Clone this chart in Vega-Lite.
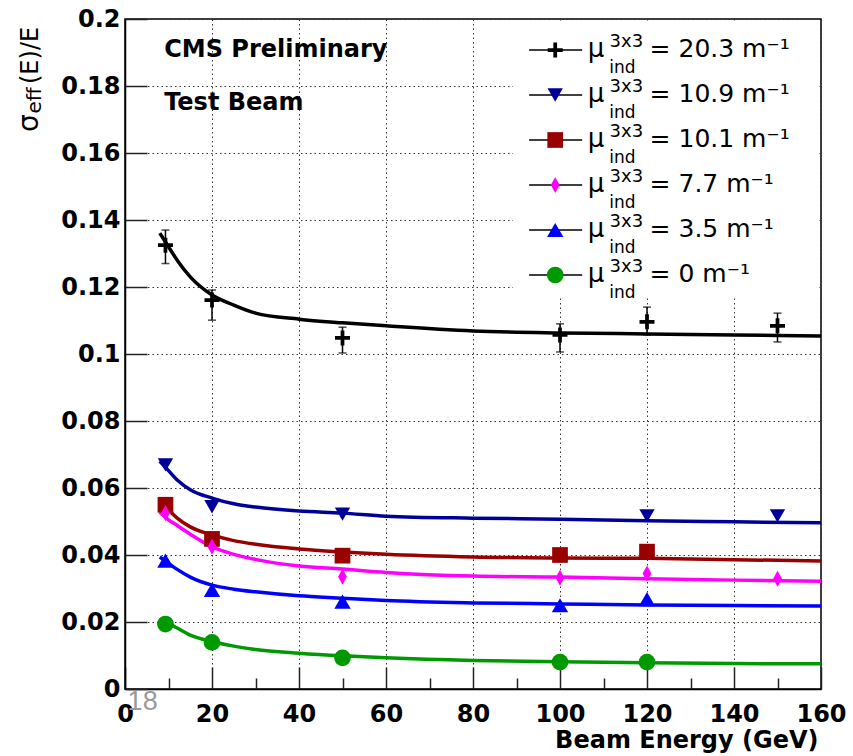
{
  "$schema": "https://vega.github.io/schema/vega-lite/v6.json",
  "width": 696,
  "height": 670,
  "autosize": {"type": "none"},
  "padding": {"left": 125, "top": 19, "right": 32, "bottom": 67},
  "background": "white",
  "config": {"view": {"stroke": "#000", "strokeWidth": 1.5}, "font": "DejaVu Sans"},
  "datasets": {
    "pts": [
      {"s": "20.3", "E": 9.3, "r": 0.1325, "lo": 0.127, "hi": 0.137},
      {"s": "20.3", "E": 20, "r": 0.1161, "lo": 0.1101, "hi": 0.1191},
      {"s": "20.3", "E": 50, "r": 0.1048, "lo": 0.1003, "hi": 0.108},
      {"s": "20.3", "E": 100, "r": 0.1057, "lo": 0.1006, "hi": 0.109},
      {"s": "20.3", "E": 120, "r": 0.1096, "lo": 0.1057, "hi": 0.114},
      {"s": "20.3", "E": 150, "r": 0.1084, "lo": 0.1036, "hi": 0.1122},
      {"s": "10.9", "E": 9.3, "r": 0.0669},
      {"s": "10.9", "E": 20, "r": 0.0544},
      {"s": "10.9", "E": 50, "r": 0.0522},
      {"s": "10.9", "E": 120, "r": 0.0517},
      {"s": "10.9", "E": 150, "r": 0.0517},
      {"s": "10.1", "E": 9.3, "r": 0.055},
      {"s": "10.1", "E": 20, "r": 0.0448},
      {"s": "10.1", "E": 50, "r": 0.0398},
      {"s": "10.1", "E": 100, "r": 0.04},
      {"s": "10.1", "E": 120, "r": 0.041},
      {"s": "7.7", "E": 9.3, "r": 0.0525},
      {"s": "7.7", "E": 20, "r": 0.0425},
      {"s": "7.7", "E": 50, "r": 0.0335},
      {"s": "7.7", "E": 100, "r": 0.0332},
      {"s": "7.7", "E": 120, "r": 0.0345},
      {"s": "7.7", "E": 150, "r": 0.0329},
      {"s": "3.5", "E": 9.3, "r": 0.0383},
      {"s": "3.5", "E": 20, "r": 0.0296},
      {"s": "3.5", "E": 50, "r": 0.0261},
      {"s": "3.5", "E": 100, "r": 0.025},
      {"s": "3.5", "E": 120, "r": 0.0268},
      {"s": "0", "E": 9.3, "r": 0.0194},
      {"s": "0", "E": 20, "r": 0.0139},
      {"s": "0", "E": 50, "r": 0.0093},
      {"s": "0", "E": 100, "r": 0.008},
      {"s": "0", "E": 120, "r": 0.008}
    ],
    "fit": [
      {"s": "20.3", "E": 8, "r": 0.1361}, {"s": "20.3", "E": 10, "r": 0.132}, {"s": "20.3", "E": 12, "r": 0.128}, {"s": "20.3", "E": 15, "r": 0.123}, {"s": "20.3", "E": 20, "r": 0.1176}, {"s": "20.3", "E": 25, "r": 0.1146}, {"s": "20.3", "E": 30, "r": 0.1122}, {"s": "20.3", "E": 40, "r": 0.1104}, {"s": "20.3", "E": 50, "r": 0.1093}, {"s": "20.3", "E": 60, "r": 0.1084}, {"s": "20.3", "E": 80, "r": 0.1069}, {"s": "20.3", "E": 100, "r": 0.1063}, {"s": "20.3", "E": 120, "r": 0.106}, {"s": "20.3", "E": 140, "r": 0.1057}, {"s": "20.3", "E": 160, "r": 0.1054},
      {"s": "10.9", "E": 8, "r": 0.068}, {"s": "10.9", "E": 10, "r": 0.0652}, {"s": "10.9", "E": 12, "r": 0.0624}, {"s": "10.9", "E": 15, "r": 0.0595}, {"s": "10.9", "E": 20, "r": 0.057}, {"s": "10.9", "E": 25, "r": 0.0553}, {"s": "10.9", "E": 30, "r": 0.0543}, {"s": "10.9", "E": 40, "r": 0.0531}, {"s": "10.9", "E": 50, "r": 0.0525}, {"s": "10.9", "E": 60, "r": 0.0516}, {"s": "10.9", "E": 80, "r": 0.051}, {"s": "10.9", "E": 100, "r": 0.0507}, {"s": "10.9", "E": 120, "r": 0.0502}, {"s": "10.9", "E": 140, "r": 0.0499}, {"s": "10.9", "E": 160, "r": 0.0496},
      {"s": "10.1", "E": 8, "r": 0.0564}, {"s": "10.1", "E": 10, "r": 0.0535}, {"s": "10.1", "E": 12, "r": 0.051}, {"s": "10.1", "E": 15, "r": 0.0484}, {"s": "10.1", "E": 20, "r": 0.046}, {"s": "10.1", "E": 25, "r": 0.0443}, {"s": "10.1", "E": 30, "r": 0.0432}, {"s": "10.1", "E": 40, "r": 0.0418}, {"s": "10.1", "E": 50, "r": 0.0409}, {"s": "10.1", "E": 60, "r": 0.0402}, {"s": "10.1", "E": 80, "r": 0.0394}, {"s": "10.1", "E": 100, "r": 0.0391}, {"s": "10.1", "E": 120, "r": 0.039}, {"s": "10.1", "E": 140, "r": 0.0386}, {"s": "10.1", "E": 160, "r": 0.0382},
      {"s": "7.7", "E": 8, "r": 0.0528}, {"s": "7.7", "E": 10, "r": 0.0505}, {"s": "7.7", "E": 12, "r": 0.0488}, {"s": "7.7", "E": 15, "r": 0.0462}, {"s": "7.7", "E": 20, "r": 0.0424}, {"s": "7.7", "E": 25, "r": 0.0402}, {"s": "7.7", "E": 30, "r": 0.0387}, {"s": "7.7", "E": 40, "r": 0.0367}, {"s": "7.7", "E": 50, "r": 0.0358}, {"s": "7.7", "E": 60, "r": 0.0348}, {"s": "7.7", "E": 80, "r": 0.0337}, {"s": "7.7", "E": 100, "r": 0.0334}, {"s": "7.7", "E": 120, "r": 0.0329}, {"s": "7.7", "E": 140, "r": 0.0325}, {"s": "7.7", "E": 160, "r": 0.0322},
      {"s": "3.5", "E": 8, "r": 0.0394}, {"s": "3.5", "E": 10, "r": 0.0375}, {"s": "3.5", "E": 12, "r": 0.0357}, {"s": "3.5", "E": 15, "r": 0.0334}, {"s": "3.5", "E": 20, "r": 0.031}, {"s": "3.5", "E": 25, "r": 0.0298}, {"s": "3.5", "E": 30, "r": 0.029}, {"s": "3.5", "E": 40, "r": 0.0278}, {"s": "3.5", "E": 50, "r": 0.0271}, {"s": "3.5", "E": 60, "r": 0.0264}, {"s": "3.5", "E": 80, "r": 0.0257}, {"s": "3.5", "E": 100, "r": 0.0254}, {"s": "3.5", "E": 120, "r": 0.0251}, {"s": "3.5", "E": 140, "r": 0.0249}, {"s": "3.5", "E": 160, "r": 0.0248},
      {"s": "0", "E": 8, "r": 0.0206}, {"s": "0", "E": 10, "r": 0.0196}, {"s": "0", "E": 12, "r": 0.0182}, {"s": "0", "E": 15, "r": 0.0161}, {"s": "0", "E": 20, "r": 0.0142}, {"s": "0", "E": 25, "r": 0.0128}, {"s": "0", "E": 30, "r": 0.0118}, {"s": "0", "E": 40, "r": 0.0107}, {"s": "0", "E": 50, "r": 0.0099}, {"s": "0", "E": 60, "r": 0.0093}, {"s": "0", "E": 80, "r": 0.0085}, {"s": "0", "E": 100, "r": 0.0081}, {"s": "0", "E": 120, "r": 0.0078}, {"s": "0", "E": 140, "r": 0.0076}, {"s": "0", "E": 160, "r": 0.0075}
    ],
    "leg": [
      {"s": "20.3", "t": "= 20.3 m⁻¹"},
      {"s": "10.9", "t": "= 10.9 m⁻¹"},
      {"s": "10.1", "t": "= 10.1 m⁻¹"},
      {"s": "7.7", "t": "= 7.7 m⁻¹"},
      {"s": "3.5", "t": "= 3.5 m⁻¹"},
      {"s": "0", "t": "= 0 m⁻¹"}
    ]
  },
  "layer": [
    {
      "layer": [
        {
          "data": {"name": "fit"},
          "mark": {"type": "line", "strokeWidth": 3.5, "interpolate": "monotone"},
          "encoding": {
            "x": {
              "field": "E", "type": "quantitative",
              "scale": {"domain": [0, 160], "nice": false, "zero": false},
              "axis": {
                "values": [0,5,10,15,20,25,30,35,40,45,50,55,60,65,70,75,80,85,90,95,100,105,110,115,120,125,130,135,140,145,150,155,160],
                "format": "d",
                "labelExpr": "datum.value % 20 === 0 ? datum.label : ''",
                "labelFont": "DejaVu Sans", "labelFontWeight": "bold", "labelFontSize": 24, "labelColor": "black",
                "labelPadding": 35, "labelFlush": false, "labelOverlap": false,
                "tickSize": {"condition": {"test": "datum.value % 20 === 0", "value": -22}, "value": -11},
                "tickColor": "#222", "tickWidth": 1.5,
                "grid": true, "gridColor": "#333", "gridDash": [1.5, 3], "gridWidth": 1,
                "gridOpacity": {"condition": {"test": "datum.value % 20 === 0", "value": 1}, "value": 0},
                "domainColor": "black", "domainWidth": 1.5,
                "title": "Beam Energy (GeV)",
                "titleFont": "DejaVu Sans", "titleFontWeight": "bold", "titleFontSize": 24, "titleColor": "black",
                "titleAlign": "right", "titleAnchor": "end", "titleBaseline": "alphabetic",
                "titleX": 693, "titleY": 58
              }
            },
            "y": {
              "field": "r", "type": "quantitative",
              "scale": {"domain": [0, 0.2], "nice": false, "zero": false},
              "axis": {
                "values": [0,0.005,0.01,0.015,0.02,0.025,0.03,0.035,0.04,0.045,0.05,0.055,0.06,0.065,0.07,0.075,0.08,0.085,0.09,0.095,0.1,0.105,0.11,0.115,0.12,0.125,0.13,0.135,0.14,0.145,0.15,0.155,0.16,0.165,0.17,0.175,0.18,0.185,0.19,0.195,0.2],
                "labelExpr": "round(datum.value*1000) % 20 === 0 ? format(datum.value, '~g') : ''",
                "labelFont": "DejaVu Sans", "labelFontWeight": "bold", "labelFontSize": 24, "labelColor": "black",
                "labelPadding": 27, "labelFlush": false, "labelOverlap": false,
                "tickSize": {"condition": {"test": "round(datum.value*1000) % 20 === 0", "value": -22}, "value": -11},
                "tickColor": "#222", "tickWidth": 1.5,
                "grid": true, "gridColor": "#333", "gridDash": [1.5, 3], "gridWidth": 1,
                "gridOpacity": {"condition": {"test": "round(datum.value*1000) % 20 === 0", "value": 1}, "value": 0},
                "domainColor": "black", "domainWidth": 1.5,
                "title": null
              }
            },
            "color": {
              "field": "s", "type": "nominal",
              "scale": {"domain": ["20.3","10.9","10.1","7.7","3.5","0"], "range": ["#000000","#000099","#990000","#ff00ff","#0000ff","#009900"]},
              "legend": null
            }
          }
        },
        {
          "data": {"name": "pts"},
          "transform": [{"filter": "isValid(datum.lo)"}],
          "mark": {"type": "rule", "color": "black", "strokeWidth": 1.5},
          "encoding": {
            "x": {"field": "E", "type": "quantitative", "scale": {"domain": [0, 160], "nice": false, "zero": false}},
            "y": {"field": "lo", "type": "quantitative", "scale": {"domain": [0, 0.2], "nice": false, "zero": false}},
            "y2": {"field": "hi"}
          }
        },
        {
          "data": {"name": "pts"},
          "transform": [{"filter": "isValid(datum.lo)"}],
          "mark": {"type": "tick", "orient": "horizontal", "color": "black", "size": 8, "thickness": 1.5},
          "encoding": {
            "x": {"field": "E", "type": "quantitative", "scale": {"domain": [0, 160], "nice": false, "zero": false}},
            "y": {"field": "lo", "type": "quantitative", "scale": {"domain": [0, 0.2], "nice": false, "zero": false}}
          }
        },
        {
          "data": {"name": "pts"},
          "transform": [{"filter": "isValid(datum.hi)"}],
          "mark": {"type": "tick", "orient": "horizontal", "color": "black", "size": 8, "thickness": 1.5},
          "encoding": {
            "x": {"field": "E", "type": "quantitative", "scale": {"domain": [0, 160], "nice": false, "zero": false}},
            "y": {"field": "hi", "type": "quantitative", "scale": {"domain": [0, 0.2], "nice": false, "zero": false}}
          }
        },
        {
          "data": {"name": "pts"},
          "mark": {"type": "point", "filled": true, "opacity": 1, "strokeWidth": 0},
          "encoding": {
            "x": {"field": "E", "type": "quantitative", "scale": {"domain": [0, 160], "nice": false, "zero": false}},
            "y": {"field": "r", "type": "quantitative", "scale": {"domain": [0, 0.2], "nice": false, "zero": false}},
            "color": {
              "field": "s", "type": "nominal",
              "scale": {"domain": ["20.3","10.9","10.1","7.7","3.5","0"], "range": ["#000000","#000099","#990000","#ff00ff","#0000ff","#009900"]},
              "legend": null
            },
            "shape": {
              "field": "s", "type": "nominal",
              "scale": {"domain": ["20.3","10.9","10.1","7.7","3.5","0"], "range": ["M-1,-0.25H-0.25V-1H0.25V-0.25H1V0.25H0.25V1H-0.25V0.25H-1Z","triangle-down","square","M0,-1L0.55,0L0,1L-0.55,0Z","triangle-up","circle"]},
              "legend": null
            },
            "size": {
              "field": "s", "type": "nominal",
              "scale": {"domain": ["20.3","10.9","10.1","7.7","3.5","0"], "range": [225, 280, 240, 160, 280, 240]},
              "legend": null
            }
          }
        },
        {
          "data": {"values": [{}]},
          "mark": {"type": "rect", "fill": "white"},
          "encoding": {
            "x": {"datum": 89.2, "type": "quantitative", "scale": {"domain": [0, 160], "nice": false, "zero": false}},
            "x2": {"datum": 159.65},
            "y": {"datum": 0.117, "type": "quantitative", "scale": {"domain": [0, 0.2], "nice": false, "zero": false}},
            "y2": {"datum": 0.19955}
          }
        },
        {
          "data": {"values": [{}]},
          "mark": {"type": "text", "text": "CMS Preliminary", "font": "DejaVu Sans", "fontWeight": "bold", "fontSize": 24, "align": "left", "baseline": "alphabetic", "color": "black"},
          "encoding": {
            "x": {"datum": 9.0, "type": "quantitative", "scale": {"domain": [0, 160], "nice": false, "zero": false}},
            "y": {"datum": 0.1887, "type": "quantitative", "scale": {"domain": [0, 0.2], "nice": false, "zero": false}}
          }
        },
        {
          "data": {"values": [{}]},
          "mark": {"type": "text", "text": "Test Beam", "font": "DejaVu Sans", "fontWeight": "bold", "fontSize": 24, "align": "left", "baseline": "alphabetic", "color": "black"},
          "encoding": {
            "x": {"datum": 9.0, "type": "quantitative", "scale": {"domain": [0, 160], "nice": false, "zero": false}},
            "y": {"datum": 0.1728, "type": "quantitative", "scale": {"domain": [0, 0.2], "nice": false, "zero": false}}
          }
        },
        {
          "data": {"values": [{}]},
          "mark": {"type": "text", "text": "18", "font": "Liberation Sans", "fontSize": 27, "align": "left", "baseline": "alphabetic", "color": "#999999"},
          "encoding": {
            "x": {"datum": 0.6, "type": "quantitative", "scale": {"domain": [0, 160], "nice": false, "zero": false}},
            "y": {"datum": -0.0063, "type": "quantitative", "scale": {"domain": [0, 0.2], "nice": false, "zero": false}}
          }
        },
        {
          "data": {"values": [{}]},
          "mark": {"type": "text", "text": "σ", "font": "DejaVu Sans", "fontSize": 28, "angle": 270, "align": "left", "baseline": "alphabetic", "color": "black"},
          "encoding": {
            "x": {"datum": -20.1, "type": "quantitative", "scale": {"domain": [0, 160], "nice": false, "zero": false}},
            "y": {"datum": 0.1663, "type": "quantitative", "scale": {"domain": [0, 0.2], "nice": false, "zero": false}}
          }
        },
        {
          "data": {"values": [{}]},
          "mark": {"type": "text", "text": "eff", "font": "DejaVu Sans", "fontSize": 20, "angle": 270, "align": "left", "baseline": "alphabetic", "color": "black"},
          "encoding": {
            "x": {"datum": -19.4, "type": "quantitative", "scale": {"domain": [0, 160], "nice": false, "zero": false}},
            "y": {"datum": 0.1718, "type": "quantitative", "scale": {"domain": [0, 0.2], "nice": false, "zero": false}}
          }
        },
        {
          "data": {"values": [{}]},
          "mark": {"type": "text", "text": "(E)/E", "font": "DejaVu Sans", "fontSize": 24, "angle": 270, "align": "left", "baseline": "alphabetic", "color": "black"},
          "encoding": {
            "x": {"datum": -20.1, "type": "quantitative", "scale": {"domain": [0, 160], "nice": false, "zero": false}},
            "y": {"datum": 0.1806, "type": "quantitative", "scale": {"domain": [0, 0.2], "nice": false, "zero": false}}
          }
        }
      ]
    },
    {
      "data": {"name": "leg"},
      "layer": [
        {
          "mark": {"type": "rule", "color": "black", "strokeWidth": 1.5},
          "encoding": {
            "x": {"datum": 92.9, "type": "quantitative", "scale": {"domain": [0, 160], "nice": false, "zero": false}},
            "x2": {"datum": 105.1},
            "y": {"field": "s", "type": "nominal", "scale": {"type": "point", "domain": ["20.3","10.9","10.1","7.7","3.5","0"], "range": [31, 256], "padding": 0}, "axis": null}
          }
        },
        {
          "mark": {"type": "point", "filled": true, "opacity": 1, "strokeWidth": 0},
          "encoding": {
            "x": {"datum": 98.9, "type": "quantitative", "scale": {"domain": [0, 160], "nice": false, "zero": false}},
            "y": {"field": "s", "type": "nominal", "scale": {"type": "point", "domain": ["20.3","10.9","10.1","7.7","3.5","0"], "range": [31, 256], "padding": 0}, "axis": null},
            "color": {
              "field": "s", "type": "nominal",
              "scale": {"domain": ["20.3","10.9","10.1","7.7","3.5","0"], "range": ["#000000","#000099","#990000","#ff00ff","#0000ff","#009900"]},
              "legend": null
            },
            "shape": {
              "field": "s", "type": "nominal",
              "scale": {"domain": ["20.3","10.9","10.1","7.7","3.5","0"], "range": ["M-1,-0.25H-0.25V-1H0.25V-0.25H1V0.25H0.25V1H-0.25V0.25H-1Z","triangle-down","square","M0,-1L0.55,0L0,1L-0.55,0Z","triangle-up","circle"]},
              "legend": null
            },
            "size": {
              "field": "s", "type": "nominal",
              "scale": {"domain": ["20.3","10.9","10.1","7.7","3.5","0"], "range": [225, 280, 240, 160, 280, 240]},
              "legend": null
            }
          }
        },
        {
          "mark": {"type": "text", "text": "μ", "font": "DejaVu Sans", "fontSize": 26, "align": "left", "baseline": "alphabetic", "dy": 7, "color": "black"},
          "encoding": {
            "x": {"datum": 106.4, "type": "quantitative", "scale": {"domain": [0, 160], "nice": false, "zero": false}},
            "y": {"field": "s", "type": "nominal", "scale": {"type": "point", "domain": ["20.3","10.9","10.1","7.7","3.5","0"], "range": [31, 256], "padding": 0}, "axis": null}
          }
        },
        {
          "mark": {"type": "text", "text": "3x3", "font": "DejaVu Sans", "fontSize": 18, "align": "left", "baseline": "alphabetic", "dy": -3, "color": "black"},
          "encoding": {
            "x": {"datum": 111.4, "type": "quantitative", "scale": {"domain": [0, 160], "nice": false, "zero": false}},
            "y": {"field": "s", "type": "nominal", "scale": {"type": "point", "domain": ["20.3","10.9","10.1","7.7","3.5","0"], "range": [31, 256], "padding": 0}, "axis": null}
          }
        },
        {
          "mark": {"type": "text", "text": "ind", "font": "DejaVu Sans", "fontSize": 17, "align": "left", "baseline": "alphabetic", "dy": 23, "color": "black"},
          "encoding": {
            "x": {"datum": 111.3, "type": "quantitative", "scale": {"domain": [0, 160], "nice": false, "zero": false}},
            "y": {"field": "s", "type": "nominal", "scale": {"type": "point", "domain": ["20.3","10.9","10.1","7.7","3.5","0"], "range": [31, 256], "padding": 0}, "axis": null}
          }
        },
        {
          "mark": {"type": "text", "font": "DejaVu Sans", "fontSize": 25, "align": "left", "baseline": "alphabetic", "dy": 7, "color": "black"},
          "encoding": {
            "x": {"datum": 120.6, "type": "quantitative", "scale": {"domain": [0, 160], "nice": false, "zero": false}},
            "y": {"field": "s", "type": "nominal", "scale": {"type": "point", "domain": ["20.3","10.9","10.1","7.7","3.5","0"], "range": [31, 256], "padding": 0}, "axis": null},
            "text": {"field": "t", "type": "nominal"}
          }
        }
      ]
    }
  ],
  "resolve": {"scale": {"y": "independent"}}
}
